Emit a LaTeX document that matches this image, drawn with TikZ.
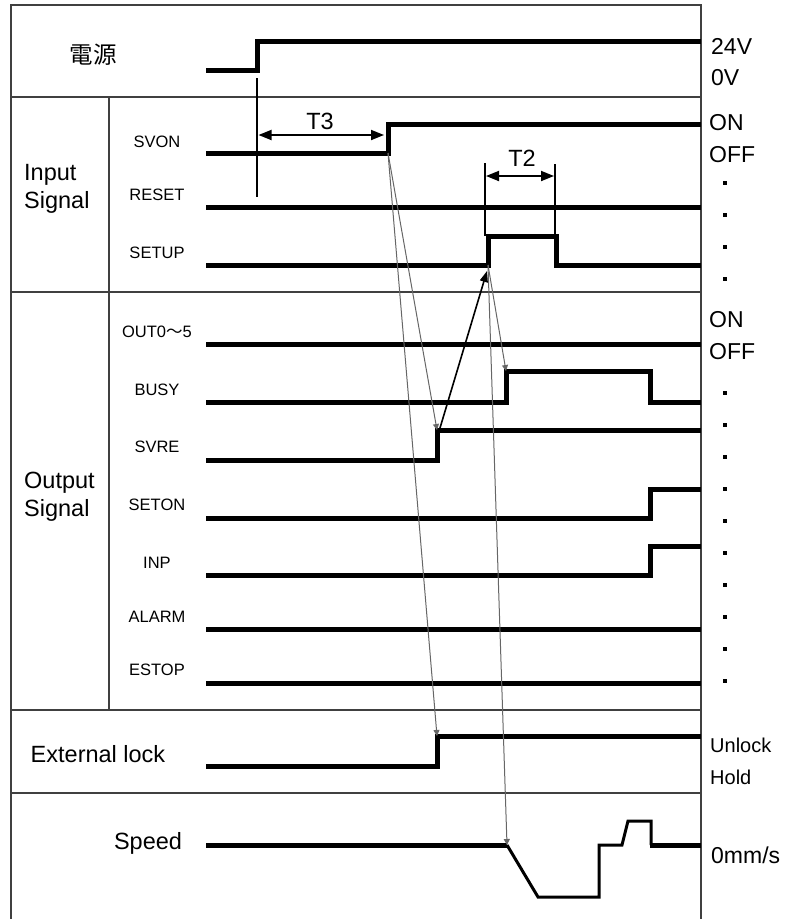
\documentclass[tikz,border=0pt]{standalone}
\usepackage{fontspec}
\setmainfont{Liberation Sans}
\newfontfamily\jpfont{Noto Sans CJK JP}
\usetikzlibrary{arrows.meta}

\begin{document}
\begin{tikzpicture}[
    x=1pt, y=-1pt,
    >={Triangle[length=13pt,width=10pt]},
    frame/.style={line width=1.3pt, black!75},
    wave/.style={line width=5pt, line join=miter},
    dip/.style={line width=3pt, line join=miter},
    mark line/.style={line width=1.5pt},
    cause/.style={-{Triangle[length=6pt,width=6pt]}, line width=1pt, black!60},
    big/.style={font=\fontsize{23.5}{28}\selectfont, inner sep=0pt},
    sig/.style={font=\fontsize{16.5}{19}\selectfont, inner sep=0pt},
    lvl/.style={font=\fontsize{23}{27}\selectfont, anchor=west, inner sep=0pt}
]
\useasboundingbox (0,0) rectangle (797,919);

\draw[frame] (11,919) -- (11,5) -- (701,5) -- (701,919);
\draw[frame] (11,97) -- (701,97) (11,292) -- (701,292)
    (11,710) -- (701,710) (11,793) -- (701,793) (109,97) -- (109,710);

% transition points
\coordinate (pwrup) at (257,70);
\coordinate (svonup) at (388,153);
\coordinate (setupup) at (488,265);
\coordinate (setupdn) at (556,236);
\coordinate (busyon) at (506,371);
\coordinate (svreon) at (437,430);
\coordinate (lockon) at (437,736);
\coordinate (speedgo) at (507,845);

% waveforms
\draw[wave] (206,70) -- (pwrup) -- (257,41) -- (701,41);
\draw[wave] (206,153) -- (svonup) -- (388,124) -- (701,124);
\draw[wave] (206,207) -- (701,207);
\draw[wave] (206,265) -- (setupup) -- (488,236) -- (setupdn) -- (556,265) -- (701,265);
\draw[wave] (206,344) -- (701,344);
\draw[wave] (206,402) -- (506,402) -- (busyon) -- (650,371) -- (650,402) -- (701,402);
\draw[wave] (206,460) -- (437,460) -- (svreon) -- (701,430);
\draw[wave] (206,518) -- (650,518) -- (650,489) -- (701,489);
\draw[wave] (206,575) -- (650,575) -- (650,546) -- (701,546);
\draw[wave] (206,629) -- (701,629);
\draw[wave] (206,683) -- (701,683);
\draw[wave] (206,766) -- (437,766) -- (lockon) -- (701,736);
\draw[wave] (206,845) -- (speedgo);
\draw[dip] (speedgo) -- (538,897) -- (599,897) -- (599,845) -- (622,845)
    -- (628,821) -- (651,821) -- (651,845);
\draw[wave] (649.5,845) -- (701,845);

% timing marks
\draw[mark line] (257,78) -- (257,197);
\draw[mark line] (485,163) -- (485,236) (555,164) -- (555,236);
\draw[<->, line width=1.8pt] (258.5,135) -- (384,135);
\draw[<->, line width=1.8pt] (486,176) -- (554,176);
\node[big] (t3) at (320,121) {T3};
\node[big] (t2) at (522,158) {T2};

% causes
\draw[cause] (svonup) -- (svreon);
\draw[cause] (svonup) -- (lockon);
\draw[cause] (setupup) -- (busyon);
\draw[cause] (setupup) -- (speedgo);
\draw[->, line width=1.6pt, >={Triangle[length=11pt,width=8pt]}] (440,428) -- (487,271);

% labels
\node[big] (power) at (93,55) {\jpfont 電源};
\node[big, align=left, anchor=west] (input) at (24,189) {Input\\Signal};
\node[big, align=left, anchor=west] (output) at (24,497) {Output\\Signal};
\node[big] (lock) at (98,754) {External lock};
\node[big] (speed) at (148,843) {Speed};

\node[sig] (svon) at (157,142) {SVON};
\node[sig] (reset) at (157,195) {RESET};
\node[sig] (setup) at (157,253) {SETUP};
\node[sig] (outs) at (157,332) {OUT0{\jpfont 〜}5};
\node[sig] (busy) at (157,390) {BUSY};
\node[sig] (svre) at (157,447) {SVRE};
\node[sig] (seton) at (157,505) {SETON};
\node[sig] (inp) at (157,563) {INP};
\node[sig] (alarm) at (157,617) {ALARM};
\node[sig] (estop) at (157,670) {ESTOP};

\node[lvl] (v24) at (711,46) {24V};
\node[lvl] (v0) at (711,78) {0V};
\node[lvl] (inon) at (709,123) {ON};
\node[lvl] (inoff) at (709,155) {OFF};
\node[lvl] (outon) at (709,320) {ON};
\node[lvl] (outoff) at (709,352) {OFF};
\node[lvl, font=\fontsize{20}{24}\selectfont] (unlock) at (710,745) {Unlock};
\node[lvl, font=\fontsize{20}{24}\selectfont] (hold) at (710,777) {Hold};
\node[lvl] (zero) at (711,855) {0mm/s};

\foreach \y in {183,215,...,279}
    \fill (723.3,\y-1.7) rectangle +(3.4,3.4);
\foreach \y in {393,425,...,681}
    \fill (723.3,\y-1.7) rectangle +(3.4,3.4);
\end{tikzpicture}
\end{document}
